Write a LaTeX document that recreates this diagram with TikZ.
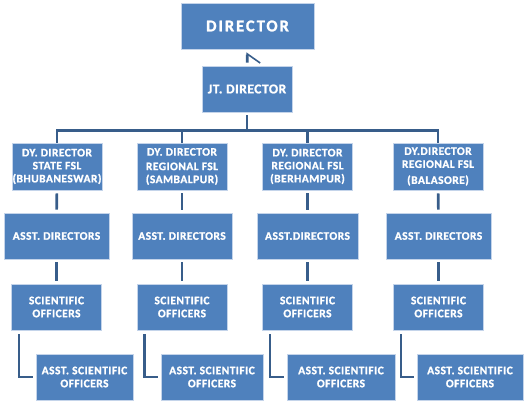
\documentclass[tikz,border=0pt]{standalone}
\usepackage{fontspec}
\usepackage{xcolor}
\usepackage{tikz}
\usetikzlibrary{arrows.meta, positioning, calc}
\newfontfamily\orgfont[LetterSpace=4, BoldFeatures={FakeBold=1.2}]{Carlito}
\newfontfamily\headfont[LetterSpace=12, BoldFeatures={FakeBold=1.5}]{Carlito}
\definecolor{boxblue}{RGB}{79,129,189}
\definecolor{boxedge}{RGB}{196,212,234}
\definecolor{linkblue}{RGB}{56,93,138}

\begin{document}
\begin{tikzpicture}[
    x=1pt, y=-1pt,
    box/.style={
        draw=boxedge, line width=0.8pt, fill=boxblue, text=white,
        minimum width=#1, minimum height=46pt, inner sep=0pt, align=center,
        font={\orgfont\bfseries\fontsize{11.5}{13}\selectfont}
    },
    box/.default=90pt,
    conn/.style={line width=2.6pt, color=linkblue},
    gap/.style={shorten <=3pt, shorten >=3pt}
]
\useasboundingbox (0,0) rectangle (528,403);

% Top
\node[box=133pt, font={\headfont\bfseries\fontsize{16.5}{18}\selectfont}] (dir) at (247.5,26) {DIRECTOR};
\node[box, font={\orgfont\bfseries\fontsize{13.5}{15}\selectfont}] (jt) at (247,89) {JT. DIRECTOR};
\coordinate (bus) at (247,131);

% Deputy directors
\node[box, minimum height=47pt] (dy1) at (57,166.5) {DY. DIRECTOR\\STATE FSL\\(BHUBANESWAR)};
\node[box, minimum height=47pt] (dy2) at (182,166.5) {DY. DIRECTOR\\[1.5pt]REGIONAL FSL\\(SAMBALPUR)};
\node[box, minimum height=47pt] (dy3) at (307.5,166.5) {DY. DIRECTOR\\REGIONAL FSL\\(BERHAMPUR)};
\node[box, minimum height=47pt] (dy4) at (438,166.5) {DY.DIRECTOR\\REGIONAL FSL\\[3pt](BALASORE)};

% Assistant directors
\node[box=105pt] (ad1) at (56.5,236) {ASST. DIRECTORS};
\node[box=100pt] (ad2) at (182,236) {ASST. DIRECTORS};
\node[box=101pt] (ad3) at (307.5,236) {ASST.DIRECTORS};
\node[box=105pt] (ad4) at (438.5,236) {ASST. DIRECTORS};

% Scientific officers
\node[box] (so1) at (56.5,307) {SCIENTIFIC\\OFFICERS};
\node[box] (so2) at (182,307) {SCIENTIFIC\\OFFICERS};
\node[box] (so3) at (307.5,307) {SCIENTIFIC\\OFFICERS};
\node[box] (so4) at (438.5,307) {SCIENTIFIC\\OFFICERS};

% Assistant scientific officers
\node[box=97pt] (aso1) at (84.5,377) {ASST. SCIENTIFIC\\OFFICERS};
\node[box=102pt] (aso2) at (212,377) {ASST. SCIENTIFIC\\OFFICERS};
\node[box=108pt] (aso3) at (341,377) {ASST. SCIENTIFIC\\OFFICERS};
\node[box=106pt] (aso4) at (470,377) {ASST. SCIENTIFIC\\OFFICERS};

% Links
\draw[conn, gap, -{Straight Barb[right, length=9pt, width=26pt, line width=1.6pt]}] (jt) -- (dir);
\draw[conn, shorten <=3pt] (jt) -- (bus);
\draw[conn] (dy1.north) -- ++(0,-12) -| (dy4.north);
\draw[conn] (dy2.north) -- (dy2.north |- bus);
\draw[conn] (dy3.north) -- (dy3.north |- bus);

\draw[conn, gap] (dy1) -- (ad1);
\draw[conn, gap] (dy2) -- (ad2);
\draw[conn, gap] (dy3) -- (ad3);
\draw[conn, gap] (dy4) -- (ad4);

\draw[conn, gap] (ad1) -- (so1);
\draw[conn, gap] (ad2) -- (so2);
\draw[conn, gap] (ad3) -- (so3);
\draw[conn, gap] (ad4) -- (so4);

\draw[conn] ([xshift=8pt, yshift=-4pt]so1.south west) |- ([xshift=-3pt]aso1.west);
\draw[conn] ([xshift=8pt, yshift=-4pt]so2.south west) |- ([xshift=-3pt]aso2.west);
\draw[conn] ([xshift=8pt, yshift=-4pt]so3.south west) |- ([xshift=-3pt]aso3.west);
\draw[conn] ([xshift=8pt, yshift=-4pt]so4.south west) |- ([xshift=-3pt]aso4.west);

\end{tikzpicture}
\end{document}
